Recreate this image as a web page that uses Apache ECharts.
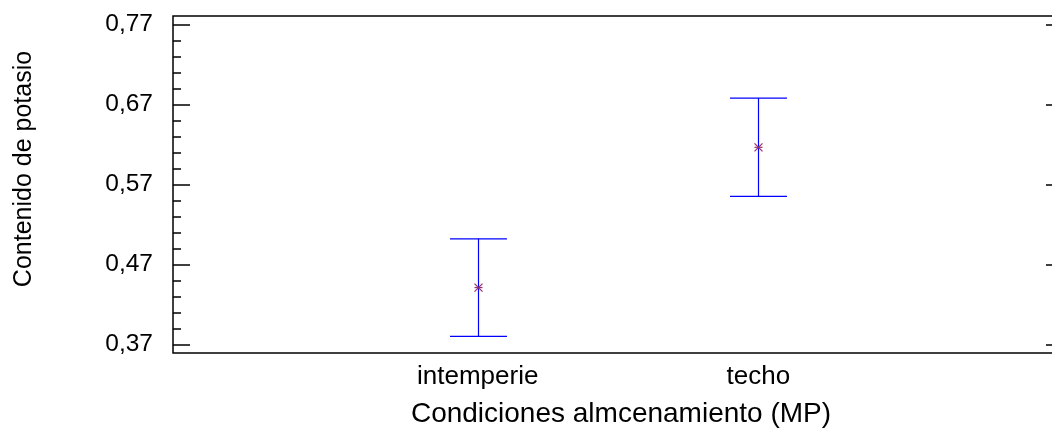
<!DOCTYPE html>
<html>
<head>
<meta charset="utf-8">
<script src="https://cdn.jsdelivr.net/npm/echarts@6/dist/echarts.min.js"></script>
<style>
html,body{margin:0;padding:0;background:#fff;overflow:hidden;width:1052px;height:432px;}
#chart{width:1080px;height:432px;}
</style>
</head>
<body>
<div id="chart"></div>
<script>
var categories = ['intemperie', 'techo'];
var means = [0.441, 0.6165];
var lower = [0.380, 0.555];
var upper = [0.502, 0.678];
var yMajorTicks = [0.37, 0.47, 0.57, 0.67, 0.77];
var yMinorTicks = [0.39, 0.41, 0.43, 0.45, 0.49, 0.51, 0.53, 0.55, 0.59, 0.61, 0.63, 0.65, 0.69, 0.71, 0.73, 0.75];
var xTitle = 'Condiciones almcenamiento (MP)';
var yTitle = 'Contenido de potasio';

var FONT = '"Liberation Sans", Arial, sans-serif';
var chart = echarts.init(document.getElementById('chart'), null, {renderer: 'canvas'});

var seriesData = categories.map(function (c, i) {
  return [i + 1, means[i], lower[i], upper[i]];
});

function fmt(v) { return v.toFixed(2).replace('.', ','); }

var yMin = 0.3591, yMax = 0.7808;

var option = {
  animation: false,
  backgroundColor: '#ffffff',
  grid: {
    left: 173, top: 16, right: 17, bottom: 79,
    show: true, borderColor: '#000', borderWidth: 1.5, backgroundColor: 'transparent'
  },
  xAxis: {
    type: 'value', min: -0.0855, max: 3.0855,
    axisLine: {show: false, onZero: false}, axisTick: {show: false}, splitLine: {show: false},
    axisLabel: {
      customValues: [1, 2],
      formatter: function (v) { return categories[Math.round(v) - 1] || ''; },
      fontFamily: FONT, fontSize: 26, color: '#000', margin: 11
    }
  },
  yAxis: [{
    type: 'value', min: yMin, max: yMax, position: 'left', offset: 0,
    axisLine: {show: false, onZero: false}, splitLine: {show: false},
    axisTick: {show: true, inside: true, length: 17, customValues: yMajorTicks, lineStyle: {color: '#000', width: 1.5}},
    axisLabel: {customValues: yMajorTicks, formatter: fmt, fontFamily: FONT, fontSize: 24.5, color: '#000', margin: 20}
  }, {
    type: 'value', min: yMin, max: yMax, position: 'left', offset: 0,
    axisLine: {show: false, onZero: false}, splitLine: {show: false}, axisLabel: {show: false},
    axisTick: {show: true, inside: true, length: 8, customValues: yMinorTicks, lineStyle: {color: '#000', width: 1.5}}
  }, {
    type: 'value', min: yMin, max: yMax, position: 'right', offset: 0,
    axisLine: {show: false, onZero: false}, splitLine: {show: false}, axisLabel: {show: false},
    axisTick: {show: true, inside: true, length: 17, customValues: yMajorTicks, lineStyle: {color: '#000', width: 1.5}}
  }],
  series: [{
    type: 'custom',
    xAxisIndex: 0, yAxisIndex: 0,
    data: seriesData,
    renderItem: function (params, api) {
      var x = api.value(0);
      var pm = api.coord([x, api.value(1)]);
      var plo = api.coord([x, api.value(2)]);
      var phi = api.coord([x, api.value(3)]);
      var cx = Math.round(pm[0]) + 0.5;
      var hw = 28.5;
      var blue = {stroke: '#0000ff', lineWidth: 1.2};
      var mk = {stroke: '#993366', lineWidth: 1.2};
      var s = 4;
      return {
        type: 'group',
        children: [
          {type: 'line', shape: {x1: cx, y1: phi[1], x2: cx, y2: plo[1]}, style: blue},
          {type: 'line', shape: {x1: cx - hw, y1: phi[1], x2: cx + hw, y2: phi[1]}, style: blue},
          {type: 'line', shape: {x1: cx - hw, y1: plo[1], x2: cx + hw, y2: plo[1]}, style: blue},
          {type: 'line', shape: {x1: cx - s, y1: pm[1] - s, x2: cx + s, y2: pm[1] + s}, style: mk},
          {type: 'line', shape: {x1: cx - s, y1: pm[1] + s, x2: cx + s, y2: pm[1] - s}, style: mk},
          {type: 'line', shape: {x1: cx - s, y1: pm[1], x2: cx + s, y2: pm[1]}, style: mk}
        ]
      };
    }
  }],
  graphic: [{
    type: 'text', x: 621, y: 414,
    style: {text: xTitle, font: '28px ' + FONT, fill: '#000', align: 'center', verticalAlign: 'middle'}
  }, {
    type: 'text', x: 24, y: 169, rotation: Math.PI / 2,
    style: {text: yTitle, font: '25px ' + FONT, fill: '#000', align: 'center', verticalAlign: 'middle'}
  }]
};
chart.setOption(option);
</script>
</body>
</html>
